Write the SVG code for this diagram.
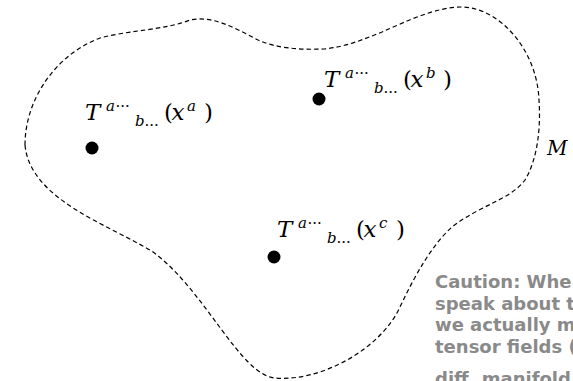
<svg xmlns="http://www.w3.org/2000/svg" width="573" height="381" viewBox="0 0 573 381">
<style>
.blob{fill:none;stroke:#000;stroke-width:1.2;stroke-dasharray:4.5 3}
.dot{fill:#000}
.math{font-family:"DejaVu Serif","Liberation Serif",serif;fill:#000;font-size:23px}
.it{font-style:italic}
.s{font-size:15px}
.note{font-family:"DejaVu Sans","Liberation Sans",sans-serif;font-weight:bold;font-size:18px;fill:#8a8a8a}
</style>
<rect width="573" height="381" fill="#fff"/>
<g id="manifold">
<path class="blob" d="M25,145 C25,100 55,55 100,38 C130,30 165,30 190,20 C212,15 235,28 258,40 C275,48 300,50 324,49 C345,47 362,40 382,32 C405,22 435,7 462,7 C500,8 537,50 539,100 C541,130 537,160 525,180 C510,200 480,205 452,227 C432,245 415,275 400,307 C380,350 320,382 275,378 C240,375 205,290 153,252 C110,225 30,200 25,145 Z"/>
<text class="math it" x="547" y="155" style="font-size:20px">M</text>
</g>
<g id="point-a">
<circle class="dot" cx="92" cy="148" r="6.5"/>
<text class="math"><tspan class="it" x="85" y="120">T</tspan><tspan class="it s" x="106" y="111">a</tspan><tspan class="s" x="115.5" y="111">···</tspan><tspan class="it s" x="135" y="125.5">b</tspan><tspan class="s" x="144.5" y="125.5">...</tspan><tspan x="164" y="120">(</tspan><tspan class="it" x="171.5" y="120">x</tspan><tspan class="it s" x="187" y="111">a</tspan><tspan x="204" y="120">)</tspan></text>
</g>
<g id="point-b">
<circle class="dot" cx="319" cy="99" r="6.5"/>
<text class="math"><tspan class="it" x="324" y="87">T</tspan><tspan class="it s" x="345" y="78">a</tspan><tspan class="s" x="354.5" y="78">···</tspan><tspan class="it s" x="374" y="92.5">b</tspan><tspan class="s" x="383.5" y="92.5">...</tspan><tspan x="403" y="87">(</tspan><tspan class="it" x="410.5" y="87">x</tspan><tspan class="it s" x="426" y="78">b</tspan><tspan x="443" y="87">)</tspan></text>
</g>
<g id="point-c">
<circle class="dot" cx="274" cy="257" r="6.5"/>
<text class="math"><tspan class="it" x="277" y="237">T</tspan><tspan class="it s" x="298" y="228">a</tspan><tspan class="s" x="307.5" y="228">···</tspan><tspan class="it s" x="327" y="242.5">b</tspan><tspan class="s" x="336.5" y="242.5">...</tspan><tspan x="356" y="237">(</tspan><tspan class="it" x="363.5" y="237">x</tspan><tspan class="it s" x="379" y="228">c</tspan><tspan x="396" y="237">)</tspan></text>
</g>
<g id="caution">
<text class="note" x="435" y="288">Caution: Whe</text>
<text class="note" x="435" y="309.5">speak about t</text>
<text class="note" x="435" y="331">we actually m</text>
<text class="note" x="435" y="352.5">tensor fields (</text>
<text class="note" x="435" y="385">diff. manifold</text>
</g>
</svg>
